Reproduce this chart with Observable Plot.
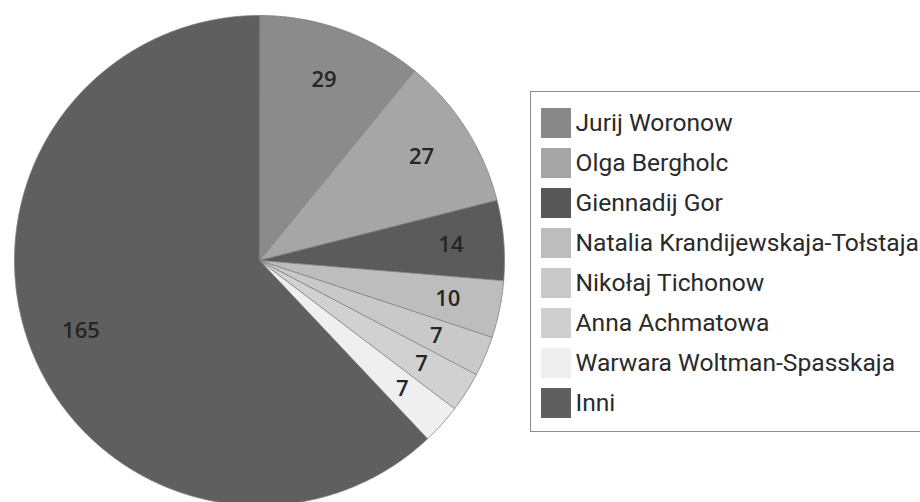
<!DOCTYPE html>
<html><head><meta charset="utf-8">
<script src="https://cdn.jsdelivr.net/npm/d3@7"></script>
<script src="https://cdn.jsdelivr.net/npm/@observablehq/plot@0.6"></script>
<style>
body{margin:0;background:#fff;}
#wrap{position:relative;width:920px;height:502px;overflow:hidden;}
#legend{position:absolute;left:530px;top:91px;width:440px;height:341px;border:1.5px solid #8c8c8c;box-sizing:border-box;padding:15.5px 0 0 9.5px;background:#fff;}
.lg-swatches{font-family:Roboto,"Liberation Sans",sans-serif !important;font-size:24.6px !important;color:#2a2a2a !important;margin:0 !important;}
.lg-swatch{display:flex !important;align-items:center !important;height:30px !important;margin:0 0 10px 0 !important;padding:0 !important;}
.lg-swatch svg{margin-right:5px !important;}
.lg-swatch-label{overflow:visible !important;text-overflow:clip !important;white-space:nowrap !important;}
</style></head><body><div id="wrap"><div id="legend"></div></div>
<script>
const names = ["Jurij Woronow","Olga Bergholc","Giennadij Gor","Natalia Krandijewskaja-Tołstaja","Nikołaj Tichonow","Anna Achmatowa","Warwara Woltman-Spasskaja","Inni"];
const values = [29,27,14,10,7,7,7,165];
const sliceColors = ["#8b8b8b","#a6a6a6","#5b5b5b","#bdbdbd","#c9c9c9","#d1d1d1","#efefef","#5f5f5f"];
const legendColors = ["#888888","#a5a5a5","#575757","#bdbdbd","#c9c9c9","#cfcfcf","#efefef","#5f5f5f"];

const pie = d3.pie().sort(null).value(d => d.value)(names.map((name, i) => ({name, value: values[i]})));

// outline points of each slice (unit circle, y up), built from pie angles
const outline = [];
pie.forEach(s => {
  outline.push({name: s.data.name, x: 0, y: 0});
  const n = Math.max(2, Math.ceil((s.endAngle - s.startAngle) / 0.005));
  for (let k = 0; k <= n; ++k) {
    const a = s.startAngle + (s.endAngle - s.startAngle) * k / n;
    outline.push({name: s.data.name, x: Math.sin(a), y: Math.cos(a)});
  }
});
const labelR = 0.784;
const labels = pie.map(s => {
  const a = (s.startAngle + s.endAngle) / 2;
  return {name: s.data.name, value: s.data.value, x: labelR * Math.sin(a), y: labelR * Math.cos(a)};
});

const chart = Plot.plot({
  width: 920,
  height: 502,
  margin: 0,
  x: {domain: [-1, 1], range: [14, 504], axis: null},
  y: {domain: [-1, 1], range: [505, 15], axis: null},
  color: {domain: names, range: sliceColors},
  style: {background: "transparent"},
  marks: [
    Plot.line(outline, {x: "x", y: "y", z: "name", fill: "name", stroke: "#7d7d7d", strokeWidth: 0.8, curve: "linear-closed"}),
    Plot.text(labels, {x: "x", y: "y", text: d => String(d.value), fill: "#252525", fontSize: 22, fontWeight: 600, fontFamily: "'Open Sans', sans-serif"})
  ]
});
document.getElementById("wrap").insertBefore(chart, document.getElementById("legend"));

const legend = Plot.legend({
  color: {type: "ordinal", domain: names, range: legendColors},
  legend: "swatches",
  columns: 1,
  swatchSize: 30,
  className: "lg"
});
document.getElementById("legend").appendChild(legend);
</script>
</body></html>
